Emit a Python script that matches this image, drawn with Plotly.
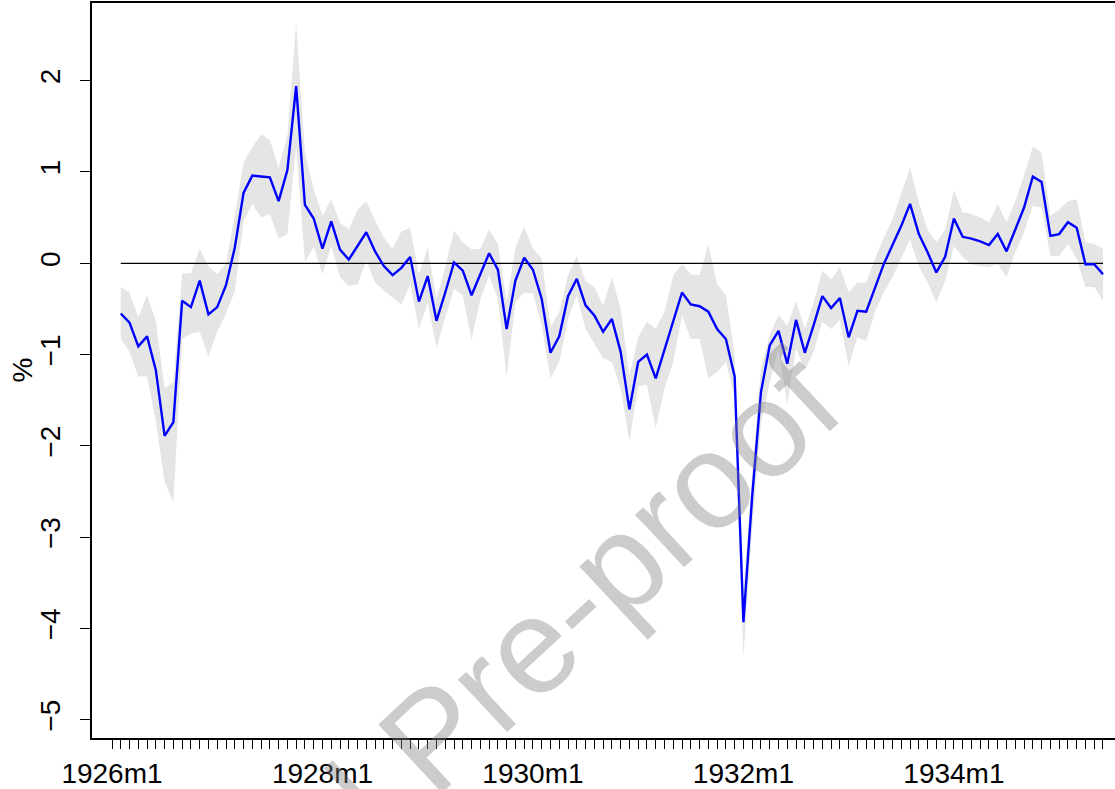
import pandas as pd
import plotly.graph_objects as go

# Monthly axis: 1926m1 ... 1935m6 (every month gets a tick)
months = [f"{p.year}m{p.month}" for p in pd.period_range("1926-01", "1935-06", freq="M")]
labelled_months = ["1926m1", "1928m1", "1930m1", "1932m1", "1934m1"]

# Series starts in 1926m2
series_months = months[1:]

estimate = [
    -0.55, -0.65, -0.91, -0.80, -1.17, -1.89, -1.74, -0.41, -0.48, -0.19,
    -0.56, -0.48, -0.24, 0.17, 0.77, 0.96, 0.95, 0.94, 0.68, 1.02,
    1.94, 0.64, 0.49, 0.16, 0.46, 0.15, 0.04, 0.19, 0.34, 0.13,
    -0.03, -0.13, -0.05, 0.07, -0.42, -0.14, -0.63, -0.32, 0.01, -0.08,
    -0.35, -0.12, 0.11, -0.07, -0.72, -0.19, 0.06, -0.07, -0.39, -0.98,
    -0.80, -0.36, -0.17, -0.46, -0.57, -0.75, -0.61, -0.97, -1.60, -1.08,
    -1.00, -1.26, -0.95, -0.63, -0.32, -0.45, -0.47, -0.53, -0.72, -0.83,
    -1.24, -3.93, -2.55, -1.41, -0.90, -0.74, -1.10, -0.62, -0.98, -0.68,
    -0.36, -0.49, -0.38, -0.81, -0.52, -0.53, -0.27, -0.01, 0.20, 0.41,
    0.65, 0.32, 0.12, -0.10, 0.07, 0.49, 0.29, 0.27, 0.24, 0.20,
    0.32, 0.13, 0.37, 0.61, 0.95, 0.89, 0.30, 0.32, 0.45, 0.39,
    -0.01, -0.01, -0.12,
]

upper = [
    -0.26, -0.32, -0.59, -0.35, -0.63, -1.37, -1.30, -0.11, -0.11, 0.16,
    -0.03, -0.12, 0.00, 0.52, 1.10, 1.27, 1.41, 1.35, 1.05, 1.39,
    2.63, 1.21, 0.81, 0.52, 0.70, 0.44, 0.37, 0.59, 0.68, 0.47,
    0.28, 0.16, 0.35, 0.39, -0.12, 0.17, -0.39, -0.04, 0.36, 0.23,
    0.15, 0.16, 0.37, 0.21, -0.43, 0.17, 0.40, 0.16, 0.05, -0.70,
    -0.53, -0.13, 0.08, -0.20, -0.26, -0.46, -0.15, -0.50, -1.23, -0.81,
    -0.64, -0.72, -0.53, -0.13, -0.01, -0.12, -0.13, 0.21, -0.23, -0.35,
    -1.00, -3.60, -2.30, -1.15, -0.78, -0.57, -0.68, -0.41, -0.72, -0.43,
    -0.08, -0.18, -0.04, -0.32, -0.21, -0.21, 0.05, 0.28, 0.48, 0.77,
    1.05, 0.67, 0.37, 0.23, 0.37, 0.80, 0.56, 0.54, 0.50, 0.45,
    0.65, 0.45, 0.68, 0.96, 1.28, 1.21, 0.52, 0.59, 0.68, 0.70,
    0.23, 0.21, 0.16,
]

lower = [
    -0.83, -0.97, -1.24, -1.24, -1.73, -2.39, -2.62, -0.83, -0.77, -0.75,
    -1.02, -0.75, -0.55, -0.31, 0.46, 0.65, 0.50, 0.54, 0.27, 0.32,
    1.28, 0.01, 0.18, -0.12, 0.19, -0.15, -0.25, -0.23, 0.03, -0.21,
    -0.30, -0.37, -0.45, -0.23, -0.72, -0.43, -0.93, -0.59, -0.28, -0.35,
    -0.84, -0.39, -0.13, -0.39, -1.24, -0.43, -0.32, -0.33, -0.68, -1.26,
    -1.08, -0.61, -0.35, -0.72, -0.88, -1.04, -1.08, -1.37, -1.95, -1.35,
    -1.33, -1.81, -1.37, -1.08, -0.57, -0.83, -0.83, -1.26, -1.19, -1.08,
    -1.45, -4.31, -2.90, -1.75, -1.30, -0.93, -1.55, -0.93, -1.17, -0.97,
    -0.64, -0.72, -0.62, -1.13, -0.81, -0.85, -0.53, -0.32, -0.15, 0.05,
    0.26, -0.03, -0.21, -0.43, -0.19, 0.19, 0.07, -0.01, -0.03, -0.04,
    -0.01, -0.15, 0.12, 0.34, 0.63, 0.61, 0.08, 0.08, 0.21, 0.05,
    -0.26, -0.26, -0.41,
]

y_ticks = [-5, -4, -3, -2, -1, 0, 1, 2]

pos = {m: i for i, m in enumerate(months)}
x = [pos[m] for m in series_months]

FONT = "Liberation Sans, Arial, Helvetica, sans-serif"

fig = go.Figure()

# confidence band
fig.add_trace(go.Scatter(x=x, y=upper, mode="lines", line=dict(width=0),
                         hoverinfo="skip", showlegend=False))
fig.add_trace(go.Scatter(x=x, y=lower, mode="lines", line=dict(width=0),
                         fill="tonexty", fillcolor="#e5e5e5",
                         hoverinfo="skip", showlegend=False))
# zero reference line over the sample
fig.add_trace(go.Scatter(x=[x[0], x[-1]], y=[0, 0], mode="lines",
                         line=dict(color="black", width=1.3),
                         hoverinfo="skip", showlegend=False))
# point estimate
fig.add_trace(go.Scatter(x=x, y=estimate, mode="lines",
                         line=dict(color="#0000ff", width=2.4),
                         showlegend=False))

fig.update_layout(
    width=1115, height=789,
    margin=dict(l=92, r=0, t=3, b=46),
    paper_bgcolor="white", plot_bgcolor="white",
    font=dict(family=FONT, size=28, color="black"),
    xaxis=dict(
        range=[-2.28, 114.37],
        tickmode="array",
        tickvals=list(range(len(months))),
        ticktext=[m if m in labelled_months else "" for m in months],
        ticks="outside", ticklen=9, tickwidth=1.3, tickcolor="black",
        showline=True, linecolor="black", linewidth=2, mirror=True,
        showgrid=False, zeroline=False,
        tickfont=dict(family=FONT, size=28, color="black"),
    ),
    yaxis=dict(
        range=[-5.198, 2.850],
        tickmode="array", tickvals=y_ticks,
        ticks="outside", ticklen=10, tickwidth=1.3, tickcolor="black",
        tickangle=-90, ticklabelstandoff=9,
        showline=True, linecolor="black", linewidth=2,
        showgrid=False, zeroline=False,
        tickfont=dict(family=FONT, size=28, color="black"),
    ),
    annotations=[
        # y-axis title
        dict(
            text="%", xref="paper", yref="paper",
            x=-70 / 1023, y=0.5, xanchor="center", yanchor="middle",
            showarrow=False, textangle=-90,
            font=dict(family=FONT, size=28, color="black"),
        ),
        # watermark
        dict(
            text="Journal Pre-proof",
            xref="paper", yref="paper",
            x=(432 - 92) / 1023, y=0.0,
            xanchor="center", yanchor="middle",
            showarrow=False, textangle=-43,
            font=dict(family=FONT, size=136, color="rgba(128,128,128,0.4)"),
        ),
    ],
)

fig.write_html("out.html")
